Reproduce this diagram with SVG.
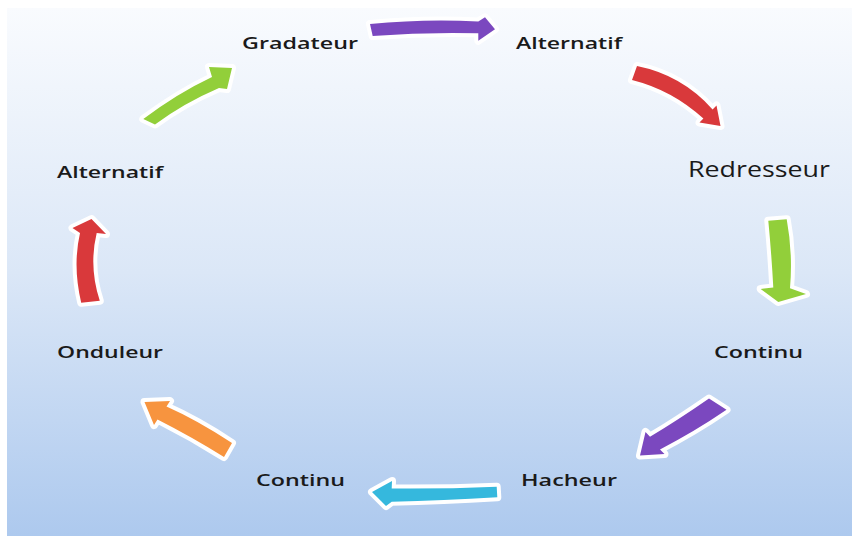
<svg xmlns="http://www.w3.org/2000/svg" width="852" height="536" viewBox="0 0 852 536">
<defs>
<linearGradient id="bg" x1="0" y1="0" x2="0" y2="1">
<stop offset="0" stop-color="#f9fbfe"/>
<stop offset="0.5" stop-color="#dbe7f7"/>
<stop offset="1" stop-color="#adc9ee"/>
</linearGradient>
<style>
.lbl{font-family:"Open Sans","Noto Sans","DejaVu Sans",sans-serif;font-size:17px;font-weight:600;fill:#1a1a1a}
.big{font-size:21px;font-weight:500}
.arr{stroke:#ffffff;stroke-width:8;stroke-linejoin:round;paint-order:stroke}
.purple{fill:#7b48bf}
.red{fill:#d9393b}
.green{fill:#92cf3a}
.cyan{fill:#35b8dd}
.orange{fill:#f7943f}
</style>
</defs>
<rect x="0" y="0" width="852" height="536" fill="#ffffff"/>
<rect x="7" y="8" width="845" height="528" fill="url(#bg)"/>
<g id="connectors">
<path class="arr purple" d="M370 24 Q425 18.6 478.3 21.5 L485 17.3 L495 29.3 L478.3 40.7 L478.3 33.3 Q425 32 372.7 36 Z"/>
<path class="arr red" d="M637 66 Q682 75 712.6 109.4 L716.5 105.5 L720.5 126 L699.5 122.5 L703.4 118.6 Q672 90 632 80 Z"/>
<path class="arr green" d="M768.3 220.7 Q771.5 254 773.3 287.5 L760.7 289 L778.3 302 L806 294 L790 288.3 Q793 253 786.7 219.3 Z"/>
<path class="arr purple" d="M709 398.5 Q678 420 650 436.8 L645.5 432 L640 455.5 L664.5 454 L660 449.4 Q694 432 726.5 409.8 Z"/>
<path class="arr cyan" d="M496.7 486.7 Q443 489 391.7 488.5 L392 481 L372 492 L386 506 L391.7 501.7 Q443 500.5 497.3 497.3 Z"/>
<path class="arr orange" d="M232 443 Q197 420 166.5 406.5 L170 401 L144.5 402 L154 425 L157.5 419.5 Q192 437 224 457 Z"/>
<path class="arr red" d="M99.8 300.7 Q88.6 267 96.7 233 L106 234 L91.5 219 L72.5 228 L80 233 Q72.5 266 81.2 302.7 Z"/>
<path class="arr green" d="M143.3 119 Q178 93 212 77 L209 67 L232 68 L227 89 L219 88 Q184 103 155 124.5 Z"/>
</g>
<g id="node-gradateur"><text class="lbl" x="242" y="49" textLength="116" lengthAdjust="spacingAndGlyphs">Gradateur</text></g>
<g id="node-alternatif-top"><text class="lbl" x="516" y="49" textLength="106" lengthAdjust="spacingAndGlyphs">Alternatif</text></g>
<g id="node-redresseur"><text class="lbl big" x="688" y="177" textLength="142" lengthAdjust="spacingAndGlyphs">Redresseur</text></g>
<g id="node-continu-right"><text class="lbl" x="714" y="358" textLength="89" lengthAdjust="spacingAndGlyphs">Continu</text></g>
<g id="node-hacheur"><text class="lbl" x="521" y="486" textLength="96" lengthAdjust="spacingAndGlyphs">Hacheur</text></g>
<g id="node-continu-bottom"><text class="lbl" x="256" y="486" textLength="89" lengthAdjust="spacingAndGlyphs">Continu</text></g>
<g id="node-onduleur"><text class="lbl" x="57" y="358" textLength="106" lengthAdjust="spacingAndGlyphs">Onduleur</text></g>
<g id="node-alternatif-left"><text class="lbl" x="57" y="178" textLength="106" lengthAdjust="spacingAndGlyphs">Alternatif</text></g>
</svg>
